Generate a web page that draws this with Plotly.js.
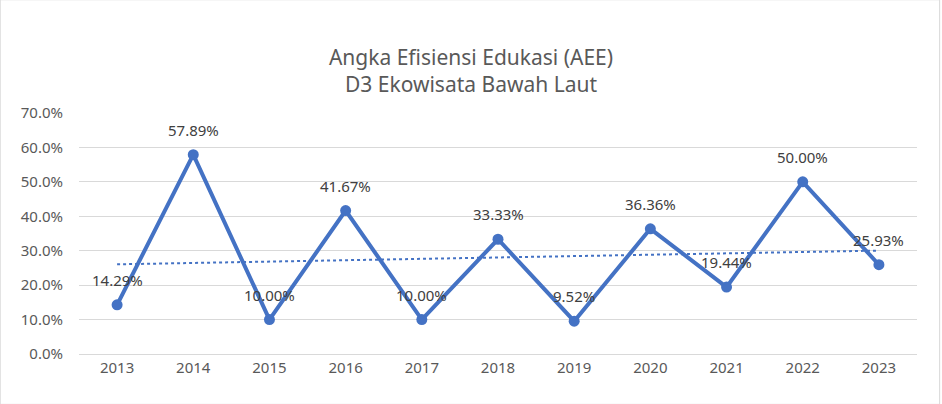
<!DOCTYPE html>
<html><head><meta charset="utf-8">
<script src="https://cdn.plot.ly/plotly-3.0.1.min.js"></script>
<style>html,body{margin:0;padding:0;background:#fff}#c{width:942px;height:404px;box-sizing:border-box}</style>
</head><body><div id="c"></div>
<script>
const years = ["2013","2014","2015","2016","2017","2018","2019","2020","2021","2022","2023"];
const aee = [14.29, 57.89, 10.00, 41.67, 10.00, 33.33, 9.52, 36.36, 19.44, 50.00, 25.93];
const yTicks = [0, 10, 20, 30, 40, 50, 60, 70];

// linear trendline through the series (least squares on index)
const n = aee.length, idx = aee.map((_, i) => i);
const mx = idx.reduce((a, b) => a + b, 0) / n, my = aee.reduce((a, b) => a + b, 0) / n;
const slope = idx.reduce((s, i) => s + (i - mx) * (aee[i] - my), 0) / idx.reduce((s, i) => s + (i - mx) ** 2, 0);
const trend = idx.map(i => my + slope * (i - mx));

const F = "Noto Sans, Open Sans, sans-serif";
Plotly.newPlot("c", [
  { x: years, y: aee, mode: "lines+markers", line: { color: "#4472c4", width: 4 }, marker: { size: 11, color: "#4472c4" }, hoverinfo: "skip" },
  { x: years, y: trend, mode: "lines", line: { color: "#4472c4", width: 2, dash: "dot" }, hoverinfo: "skip" }
], {
  width: 942, height: 404, showlegend: false,
  paper_bgcolor: "#fff", plot_bgcolor: "#fff",
  font: { family: F, color: "#595959", size: 14 },
  margin: { l: 79, r: 25, t: 113, b: 50 },
  title: { text: "Angka Efisiensi Edukasi (AEE)<br>D3 Ekowisata Bawah Laut", x: 0.5, xanchor: "center", yref: "container", y: 0.84, yanchor: "bottom", font: { size: 21, color: "#595959", family: F } },
  xaxis: { type: "category", range: [-0.5, 10.5], showgrid: false, showline: true, linecolor: "#d9d9d9", ticks: "", tickfont: { size: 15, color: "#595959" } },
  yaxis: { range: [0, 70], tickvals: yTicks, ticktext: yTicks.map(v => v.toFixed(1) + "%"), gridcolor: "#d9d9d9", zeroline: false, showline: false, tickfont: { size: 15, color: "#595959" }, ticklen: 12, tickcolor: "#fff", ticks: "outside" },
  shapes: [{ type: "rect", xref: "paper", yref: "paper", x0: -0.094, x1: 1.027, y0: -0.209, y1: 0.467 * 0 + 1.47, line: { color: "#d9d9d9", width: 1 }, layer: "below" }],
  annotations: aee.map((v, i) => ({ xref: "x", yref: "y", x: i, y: v, text: v.toFixed(2) + "%", showarrow: false, yshift: 25, font: { size: 15, color: "#404040", family: F } }))
}, { displayModeBar: false });
</script></body></html>
